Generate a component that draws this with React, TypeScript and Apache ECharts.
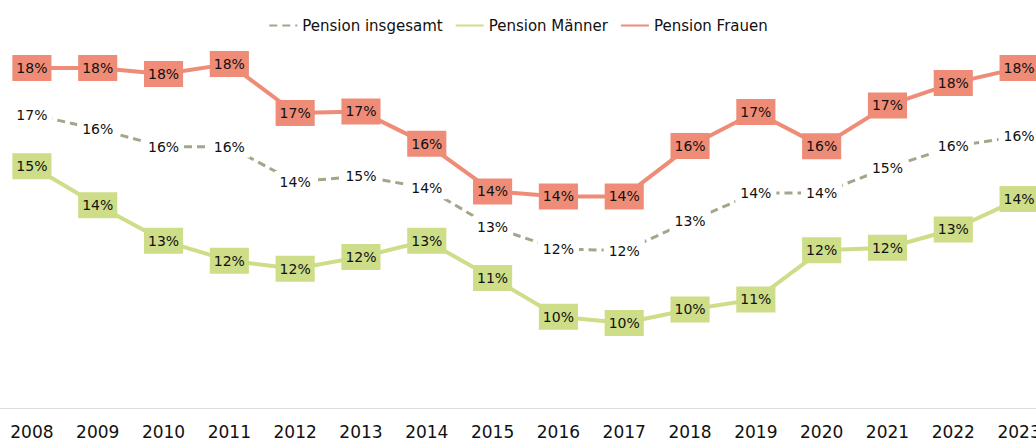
import React, { useEffect, useRef } from "react";
import * as echarts from "echarts";

const years = ["2008","2009","2010","2011","2012","2013","2014","2015","2016","2017","2018","2019","2020","2021","2022","2023"];
const pensionInsgesamt = [16.52,16.06,15.5,15.5,14.38,14.57,14.18,12.94,12.25,12.2,13.14,14.03,14.03,14.83,15.51,15.83];
const pensionMaenner = [14.88,13.64,12.51,11.88,11.62,12.0,12.51,11.33,10.1,9.9,10.33,10.65,12.21,12.29,12.87,13.84];
const pensionFrauen = [18.0,18.0,17.81,18.13,16.57,16.62,15.59,14.08,13.92,13.92,15.52,16.6,15.51,16.81,17.52,18.0];

const FONT = "DejaVu Sans";
const C_ALL = "#A1A788";
const C_M = "#CEDD87";
const C_F = "#EF8C77";

const fmt = (p: any) => Math.round(p.value) + "%";

export default function App() {
  const ref = useRef<HTMLDivElement>(null);
  useEffect(() => {
    if (!ref.current) return;
    const chart = echarts.init(ref.current, undefined, { renderer: "svg" });
    chart.setOption({
      animation: false,
      backgroundColor: "#fff",
      textStyle: { fontFamily: FONT },
      legend: {
        top: 13,
        left: "center",
        itemWidth: 28,
        itemHeight: 10,
        itemGap: 12,
        itemStyle: { opacity: 0 },
        textStyle: { fontFamily: FONT, fontSize: 15, color: "#111" },
        data: ["Pension insgesamt", "Pension Männer", "Pension Frauen"],
      },
      grid: {
        left: -1,
        width: 1053,
        top: 5,
        bottom: 33,
        containLabel: false,
        outerBoundsMode: "none",
      },
      xAxis: {
        type: "category",
        data: years,
        boundaryGap: true,
        axisLine: { show: true, lineStyle: { color: "#dddddd", width: 1 } },
        axisTick: { show: false },
        axisLabel: { fontFamily: FONT, fontSize: 17, color: "#111", margin: 15, interval: 0 },
        splitLine: { show: false },
      },
      yAxis: {
        type: "value",
        min: 7.2,
        max: 20,
        show: false,
        splitLine: { show: false },
      },
      series: [
        {
          name: "Pension insgesamt",
          type: "line",
          data: pensionInsgesamt,
          symbol: "circle",
          symbolSize: 0,
          itemStyle: { color: C_ALL },
          lineStyle: { color: C_ALL, width: 3, type: [8, 5] },
          label: {
            show: true,
            position: "inside",
            formatter: fmt,
            fontFamily: FONT,
            fontSize: 14,
            color: "#111",
            backgroundColor: "#fff",
            padding: [4, 5],
          },
          z: 2,
        },
        {
          name: "Pension Männer",
          type: "line",
          data: pensionMaenner,
          symbol: "circle",
          symbolSize: 0,
          itemStyle: { color: C_M },
          lineStyle: { color: C_M, width: 4 },
          label: {
            show: true,
            position: "inside",
            formatter: fmt,
            fontFamily: FONT,
            fontSize: 14,
            color: "#111",
            backgroundColor: C_M,
            padding: [6, 4],
          },
          z: 3,
        },
        {
          name: "Pension Frauen",
          type: "line",
          data: pensionFrauen,
          symbol: "circle",
          symbolSize: 0,
          itemStyle: { color: C_F },
          lineStyle: { color: C_F, width: 4 },
          label: {
            show: true,
            position: "inside",
            formatter: fmt,
            fontFamily: FONT,
            fontSize: 14,
            color: "#111",
            backgroundColor: C_F,
            padding: [6, 4],
          },
          z: 4,
        },
      ],
    });
    return () => chart.dispose();
  }, []);
  return (
    <div
      ref={ref}
      style={{ position: "fixed", left: 0, top: 0, width: 1036, height: 441, background: "#fff" }}
    />
  );
}
